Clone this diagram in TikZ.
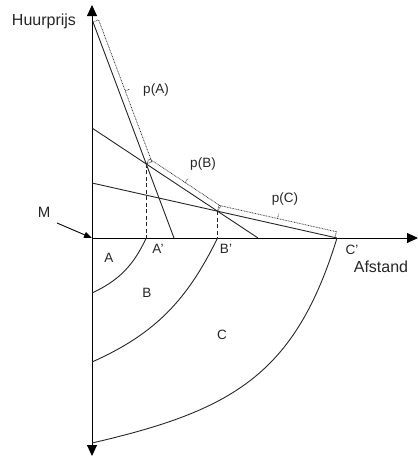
\documentclass[tikz,border=0pt]{standalone}
\usepackage{fontspec}
\setmainfont{Liberation Sans}
\usetikzlibrary{arrows.meta,calc}
\newcommand{\pbracket}[3]{%
  \coordinate (#3s) at (#1);
  \coordinate (#3e) at (#2);
  \coordinate (#3m) at ($(#3s)!0.5!(#3e)$);
  \draw[brace] (#3s) -- ($(#3s)!6pt!90:(#3e)$) -- ($(#3e)!6pt!-90:(#3s)$) -- (#3e);
  \draw[brace] ($(#3m)!6pt!90:(#3e)$) -- ($(#3m)!11pt!90:(#3e)$);
}
\begin{document}
\begin{tikzpicture}[x=1pt,y=1pt,
  curve/.style={line width=0.9pt, black!85},
  axis/.style={line width=0.9pt, black},
  axtip/.tip={Triangle[length=11pt,width=10pt]},
  guide/.style={line width=0.9pt, black!85, dash pattern=on 4pt off 2.5pt},
  brace/.style={line width=0.75pt, black!80, dash pattern=on 0.8pt off 0.8pt},
  lbl/.style={font=\fontsize{13.5}{15}\selectfont, inner sep=0pt, text=black!85},
  big/.style={font=\fontsize{16}{18}\selectfont, inner sep=0pt, text=black!85, anchor=base}]
\useasboundingbox (0,0) rectangle (418,-456);
% axes
\coordinate (O) at (92,-238);
\coordinate (Ytop) at (92,-5);
\coordinate (Ybot) at (92,-456);
\coordinate (Xend) at (418,-238);
\draw[axis,axtip-axtip] (Ytop) -- (Ybot);
\draw[axis,-axtip] (O) -- (Xend);
% price lines
\coordinate (a1) at (93,-22);
\coordinate (a2) at (174,-238);
\coordinate (b1) at (92,-128);
\coordinate (b2) at (258,-238);
\coordinate (c1) at (92,-183);
\coordinate (c2) at (337,-238);
\coordinate (P1) at (intersection of a1--a2 and b1--b2);
\coordinate (P2) at (intersection of b1--b2 and c1--c2);
\draw[curve] (a1) -- (a2);
\draw[curve] (b1) -- (b2);
\draw[curve] (c1) -- (c2);
% guides
\coordinate (Ap) at (P1 |- O);
\coordinate (Bp) at (P2 |- O);
\draw[guide] (P1) -- (Ap);
\draw[guide] (P2) -- (Bp);
% rings
\coordinate (ra) at (92,-293);
\coordinate (rb) at (92,-362);
\coordinate (rc) at (92,-443);
\draw[curve] (Ap) to[out=-115,in=25] (ra);
\draw[curve] (Bp) to[out=-116,in=24] (rb);
\draw[curve] (c2) to[out=-107,in=13,looseness=1.15] (rc);
% brackets
\pbracket{a1}{P1}{pa}
\pbracket{P1}{P2}{pb}
\coordinate (ce) at ($(c2)!2pt!(P2)$);
\pbracket{P2}{ce}{pc}
% labels
\node[big] (huur) at (44,-25) {Huurprijs};
\node[big] (afst) at (381,-272) {Afstand};
\node[big,font=\fontsize{15}{17}\selectfont] (M) at (44,-217) {M};
\coordinate (mstart) at (57,-223);
\draw[axis,-{Triangle[length=8pt,width=6pt]}] (mstart) -- (O);
\node[lbl] (lpA) at (156,-90) {p(A)};
\node[lbl] (lpB) at (203,-164) {p(B)};
\node[lbl] (lpC) at (285,-199) {p(C)};
\node[lbl] (lAp) at (158,-249) {A'};
\node[lbl] (lBp) at (226,-249) {B'};
\node[lbl] (lCp) at (352,-250) {C'};
\node[lbl] (lA) at (109,-258) {A};
\node[lbl] (lB) at (147,-293) {B};
\node[lbl] (lC) at (222,-335) {C};
\end{tikzpicture}
\end{document}
